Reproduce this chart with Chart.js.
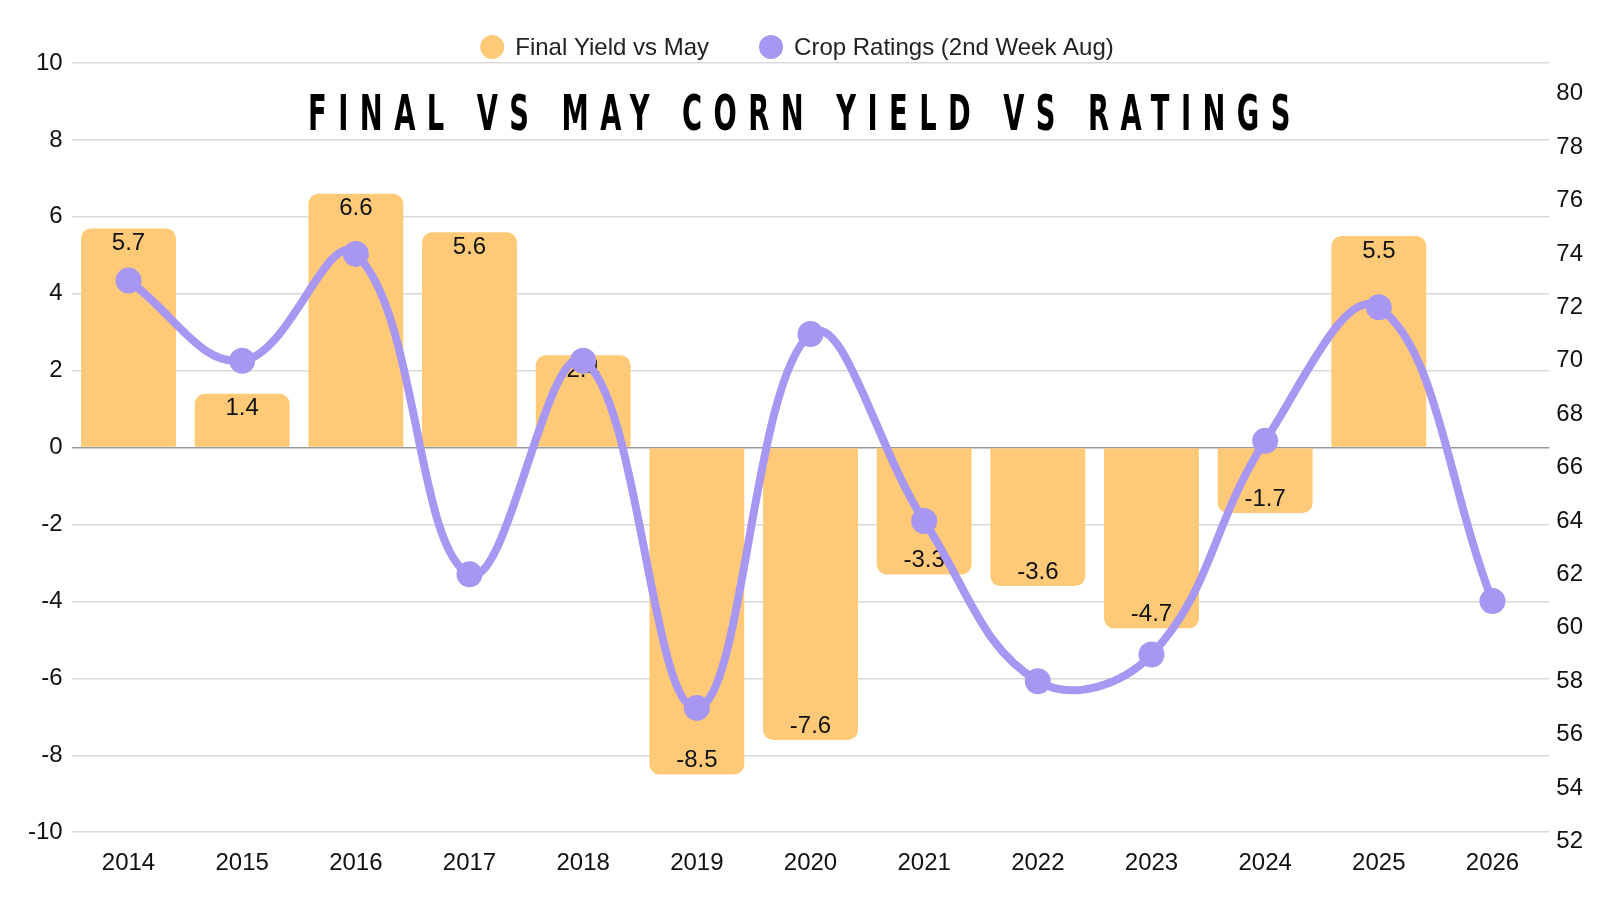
<!DOCTYPE html>
<html>
<head>
<meta charset="utf-8">
<script src="https://cdn.jsdelivr.net/npm/chart.js@4"></script>
<style>
  html, body { margin: 0; padding: 0; background: #fff; }
  #wrap { width: 1600px; height: 900px; }
</style>
</head>
<body>
<div id="wrap"><canvas id="chart"></canvas></div>
<script>
var years = ['2014', '2015', '2016', '2017', '2018', '2019', '2020', '2021', '2022', '2023', '2024', '2025', '2026'];
var yieldDiff = [5.7, 1.4, 6.6, 5.6, 2.4, -8.5, -7.6, -3.3, -3.6, -4.7, -1.7, 5.5, null];
var cropRatings = [73, 70, 74, 62, 70, 57, 71, 64, 58, 59, 67, 72, 61];
var leftTicks = [-10, -8, -6, -4, -2, 0, 2, 4, 6, 8, 10];
var rightTicks = [52, 54, 56, 58, 60, 62, 64, 66, 68, 70, 72, 74, 76, 78, 80];
var chartTitle = 'FINAL VS MAY CORN YIELD VS RATINGS';

var barColor = '#FFCA78';
var lineColor = '#A796F2';
var textColor = '#111111';
var baseFont = "'Liberation Sans', Arial, sans-serif";

// value labels inside the end of each bar, drawn before the line goes on top
var barLabels = {
  id: 'barLabels',
  afterDatasetDraw: function(chart, args) {
    if (args.index !== 0) return;
    var ctx = chart.ctx;
    ctx.save();
    ctx.font = '24px ' + baseFont;
    ctx.fillStyle = textColor;
    ctx.textAlign = 'center';
    ctx.textBaseline = 'middle';
    args.meta.data.forEach(function(bar, i) {
      var v = yieldDiff[i];
      if (v === null) return;
      var y = v >= 0 ? bar.y + 15 : bar.y - 14;
      ctx.fillText(v.toFixed(1), bar.x, y);
    });
    ctx.restore();
  }
};

var spacedTitle = {
  id: 'spacedTitle',
  afterDraw: function(chart) {
    var ctx = chart.ctx;
    ctx.save();
    ctx.font = "bold 49px 'DejaVu Sans Condensed', 'DejaVu Sans', sans-serif";
    ctx.letterSpacing = '18.5px';
    ctx.fillStyle = '#000';
    ctx.textAlign = 'center';
    ctx.textBaseline = 'middle';
    ctx.translate(chart.width / 2 + 5, 117);
    ctx.scale(0.62, 1);
    ctx.fillText(chartTitle, 0, 0);
    ctx.restore();
  }
};

// legend row above the plot, with wider gaps than the built-in one allows
var topLegend = {
  id: 'topLegend',
  afterDraw: function(chart) {
    var ctx = chart.ctx;
    var r = 12, gap = 11, itemGap = 50;
    ctx.save();
    ctx.font = '24px ' + baseFont;
    ctx.textBaseline = 'middle';
    ctx.textAlign = 'left';
    var items = chart.data.datasets.map(function(ds) {
      return { text: ds.label, color: ds.backgroundColor, w: ctx.measureText(ds.label).width };
    });
    var total = 0;
    items.forEach(function(it, i) { total += 2 * r + gap + it.w + (i ? itemGap : 0); });
    var x = chart.width / 2 - total / 2 - 3;
    var y = 47;
    items.forEach(function(it) {
      ctx.fillStyle = it.color;
      ctx.beginPath();
      ctx.arc(x + r, y, r, 0, Math.PI * 2);
      ctx.fill();
      ctx.fillStyle = '#222';
      ctx.fillText(it.text, x + 2 * r + gap, y + 1);
      x += 2 * r + gap + it.w + itemGap;
    });
    ctx.restore();
  }
};

document.addEventListener('DOMContentLoaded', function() {
  var ctx = document.getElementById('chart').getContext('2d');
  var chart = new Chart(ctx, {
    type: 'bar',
    data: {
      labels: years,
      datasets: [{
        label: 'Final Yield vs May',
        data: yieldDiff,
        backgroundColor: barColor,
        borderRadius: 10,
        borderSkipped: 'start',
        barPercentage: 0.835,
        categoryPercentage: 1,
        yAxisID: 'y',
        order: 1
      }, {
        type: 'line',
        label: 'Crop Ratings (2nd Week Aug)',
        data: cropRatings,
        borderColor: lineColor,
        backgroundColor: lineColor,
        borderWidth: 8,
        pointRadius: 13,
        pointHoverRadius: 13,
        pointBackgroundColor: lineColor,
        pointBorderWidth: 0,
        tension: 0.4,
        fill: false,
        yAxisID: 'y1',
        order: 0
      }]
    },
    options: {
      responsive: true,
      maintainAspectRatio: false,
      animation: false,
      layout: { autoPadding: false, padding: { top: 63, left: 19, right: 10, bottom: 13 } },
      plugins: {
        tooltip: { enabled: false },
        legend: { display: false }
      },
      scales: {
        x: {
          offset: true,
          grid: { display: false },
          border: { display: false },
          ticks: { color: textColor, font: { size: 24, family: baseFont }, padding: 9 }
        },
        y: {
          position: 'left',
          min: -10,
          max: 10,
          afterBuildTicks: function(scale) {
            scale.ticks = leftTicks.map(function(v) { return { value: v }; });
          },
          grid: {
            color: function(c) { return c.tick && c.tick.value === 0 ? '#999999' : '#d9d9d9'; },
            lineWidth: 1.5,
            drawTicks: false
          },
          border: { display: false },
          ticks: { color: textColor, font: { size: 24, family: baseFont }, padding: 9 }
        },
        y1: {
          position: 'right',
          min: 52.345,
          max: 81.149,
          afterBuildTicks: function(scale) {
            scale.ticks = rightTicks.map(function(v) { return { value: v }; });
          },
          grid: { display: false, drawTicks: false },
          border: { display: false },
          ticks: { color: textColor, font: { size: 24, family: baseFont }, padding: 7 }
        }
      }
    },
    plugins: [barLabels, spacedTitle, topLegend]
  });
});
</script>
</body>
</html>
